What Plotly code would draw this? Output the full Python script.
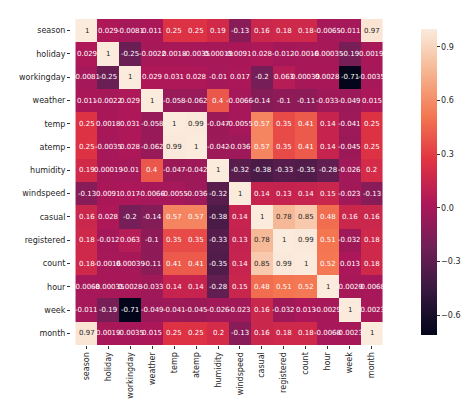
import plotly.graph_objects as go

labels = ["season", "holiday", "workingday", "weather", "temp", "atemp", "humidity",
          "windspeed", "casual", "registered", "count", "hour", "week", "month"]

season     = [1, 0.029, -0.0081, 0.011, 0.25, 0.25, 0.19, -0.13, 0.16, 0.18, 0.18, -0.0065, -0.011, 0.97]
holiday    = [0.029, 1, -0.25, -0.0022, 0.0018, -0.0035, 0.00019, 0.0091, 0.028, -0.012, -0.0016, -0.00035, -0.19, 0.0019]
workingday = [-0.0081, -0.25, 1, 0.029, 0.031, 0.028, -0.01, 0.017, -0.2, 0.063, 0.00039, 0.0028, -0.71, -0.0035]
weather    = [0.011, -0.0022, 0.029, 1, -0.058, -0.062, 0.4, -0.0066, -0.14, -0.1, -0.11, -0.033, -0.049, 0.015]
temp       = [0.25, 0.0018, 0.031, -0.058, 1, 0.99, -0.047, -0.0055, 0.57, 0.35, 0.41, 0.14, -0.041, 0.25]
atemp      = [0.25, -0.0035, 0.028, -0.062, 0.99, 1, -0.042, -0.036, 0.57, 0.35, 0.41, 0.14, -0.045, 0.25]
humidity   = [0.19, 0.00019, -0.01, 0.4, -0.047, -0.042, 1, -0.32, -0.38, -0.33, -0.35, -0.28, -0.026, 0.2]
windspeed  = [-0.13, 0.0091, 0.017, -0.0066, -0.0055, -0.036, -0.32, 1, 0.14, 0.13, 0.14, 0.15, -0.023, -0.13]
casual     = [0.16, 0.028, -0.2, -0.14, 0.57, 0.57, -0.38, 0.14, 1, 0.78, 0.85, 0.48, 0.16, 0.16]
registered = [0.18, -0.012, 0.063, -0.1, 0.35, 0.35, -0.33, 0.13, 0.78, 1, 0.99, 0.51, -0.032, 0.18]
count      = [0.18, -0.0016, 0.00039, -0.11, 0.41, 0.41, -0.35, 0.14, 0.85, 0.99, 1, 0.52, 0.013, 0.18]
hour       = [-0.0068, -0.00035, 0.0028, -0.033, 0.14, 0.14, -0.28, 0.15, 0.48, 0.51, 0.52, 1, -0.0029, -0.0068]
week       = [-0.011, -0.19, -0.71, -0.049, -0.041, -0.045, -0.026, -0.023, 0.16, -0.032, 0.013, -0.0029, 1, -0.0023]
month      = [0.97, 0.0019, -0.0035, 0.015, 0.25, 0.25, 0.2, -0.13, 0.16, 0.18, 0.18, -0.0068, -0.0023, 1]

z = [season, holiday, workingday, weather, temp, atemp, humidity,
     windspeed, casual, registered, count, hour, week, month]

cbar_vals = [-0.6, -0.3, 0.0, 0.3, 0.6, 0.9]
cbar_text = ["\u22120.6", "\u22120.3", "0.0", "0.3", "0.6", "0.9"]

rocket = [
    [0.0, "#03051a"],
    [1/7, "#35193e"],
    [2/7, "#701f57"],
    [3/7, "#ad1759"],
    [4/7, "#e13342"],
    [5/7, "#f37651"],
    [6/7, "#f6b48f"],
    [1.0, "#faebdd"],
]

zmin = min(min(r) for r in z)
zmax = max(max(r) for r in z)

def fmt(v):
    return format(v, ".2g")

text = [[fmt(v) for v in row] for row in z]

fig = go.Figure()
fig.add_trace(go.Heatmap(
    z=z, x=labels, y=labels,
    colorscale=rocket, zmin=zmin, zmax=zmax,
    showscale=True,
    colorbar=dict(
        x=1.075, xanchor="left", xref="paper",
        y=0.5, yanchor="middle", len=1.0, lenmode="fraction",
        thickness=16, outlinewidth=0,
        tickvals=cbar_vals, ticktext=cbar_text,
        ticks="outside", ticklen=3, tickcolor="#333",
        tickfont=dict(family="DejaVu Sans", size=8, color="#262626"),
    ),
    hoverinfo="skip",
))

for i, row in enumerate(z):
    for j, v in enumerate(row):
        norm = (v - zmin) / (zmax - zmin)
        col = "#262626" if norm > 0.8 else "white"
        fig.add_annotation(x=labels[j], y=labels[i], text=text[i][j],
                           showarrow=False,
                           font=dict(family="DejaVu Sans", size=7, color=col))

fig.update_layout(
    width=474, height=402,
    margin=dict(l=57, r=81, t=11, b=55),
    paper_bgcolor="white", plot_bgcolor="white",
    font=dict(family="DejaVu Sans", size=8, color="#262626"),
)
fig.update_xaxes(tickangle=-90, ticks="outside", ticklen=3, tickcolor="#333",
                 showgrid=False, zeroline=False, showline=False,
                 tickfont=dict(size=8))
fig.update_yaxes(autorange="reversed", ticks="outside", ticklen=3, tickcolor="#333",
                 showgrid=False, zeroline=False, showline=False,
                 tickfont=dict(size=8))

fig.write_html("out.html")
